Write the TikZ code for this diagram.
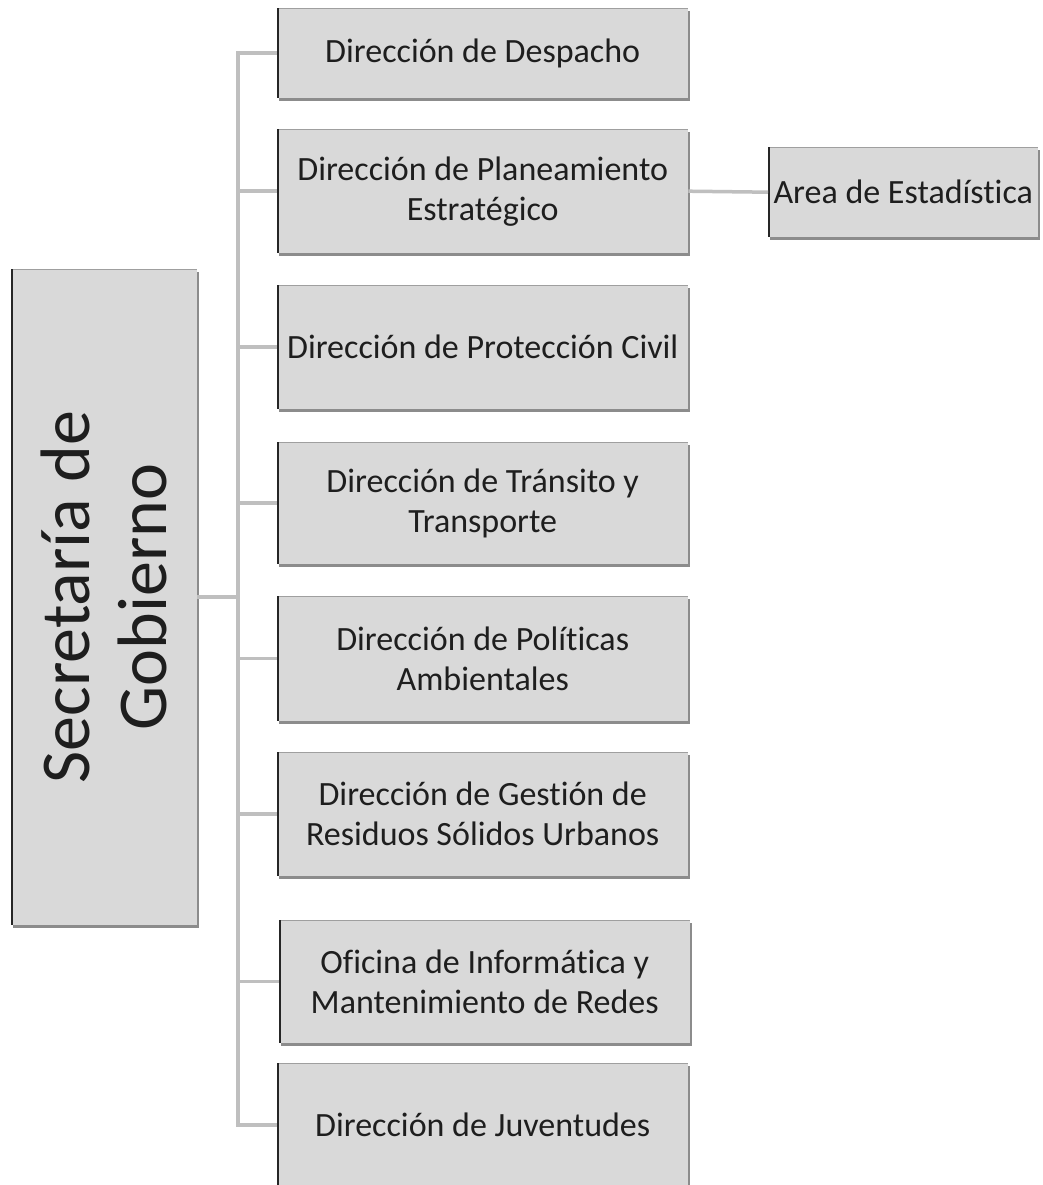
\documentclass[tikz,border=0pt]{standalone}
\usepackage{fontspec}
\setmainfont{Carlito}[Ligatures={CommonOff,ContextualOff}]
\usetikzlibrary{shadows}
\definecolor{boxgray}{HTML}{D9D9D9}
\definecolor{conngray}{HTML}{BFBFBF}
\definecolor{txt}{HTML}{1E1E1E}
\tikzset{
  orgbox/.style={fill=boxgray, draw=none, inner sep=0pt, align=center, text=txt,
    anchor=north west,
    font=\fontsize{34}{40}\selectfont,
    general shadow={fill=black!45, shadow xshift=1.5pt, shadow yshift=-3pt},
    path picture={
      \draw[line width=2pt, gray!75] (path picture bounding box.north west) -- (path picture bounding box.north east);
      \draw[line width=4pt, black!85] (path picture bounding box.north west) -- (path picture bounding box.south west);
    }},
  conn/.style={draw=conngray, line width=3.5pt}
}
\begin{document}
\begin{tikzpicture}[x=1pt,y=-1pt]
\clip (0,0) rectangle (1042,1185);
\fill[white] (0,0) rectangle (1042,1185);
\coordinate (trunk) at (238,0);
% main box
\node[orgbox, minimum width=186pt, minimum height=656pt] (sec) at (11,269) {};
\node[rotate=90, align=center, text=txt, font=\fontsize{70}{77}\selectfont] (sectext) at (sec.center) {Secretaría de\\Gobierno};
% children
\node[orgbox, minimum width=411pt, minimum height=90pt] (b1) at (277,8) {Dirección de Despacho};
\node[orgbox, minimum width=411pt, minimum height=124pt] (b2) at (277,129) {Dirección de Planeamiento\\Estratégico};
\node[orgbox, minimum width=411pt, minimum height=124pt] (b3) at (277,285) {Dirección de Protección Civil};
\node[orgbox, minimum width=411pt, minimum height=122pt] (b4) at (277,442) {Dirección de Tránsito y\\Transporte};
\node[orgbox, minimum width=411pt, minimum height=125pt] (b5) at (277,596) {Dirección de Políticas\\Ambientales};
\node[orgbox, minimum width=411pt, minimum height=124pt] (b6) at (277,752) {Dirección de Gestión de\\Residuos Sólidos Urbanos};
\node[orgbox, minimum width=411pt, minimum height=123pt] (b7) at (279,920) {Oficina de Informática y\\Mantenimiento de Redes};
\node[orgbox, minimum width=411pt, minimum height=124pt] (b8) at (277,1063) {Dirección de Juventudes};
\node[orgbox, minimum width=270pt, minimum height=90pt] (area) at (768,147) {Area de Estadística};
% connectors
\draw[conn] (sec.east) -- (sec.east -| trunk);
\foreach \b in {b1,b2,b3,b4,b5,b6,b7,b8}{
  \draw[conn] (sec.east -| trunk) |- (\b.west);
}
\draw[conn] (b2.east) -- (area.west);
\end{tikzpicture}
\end{document}
